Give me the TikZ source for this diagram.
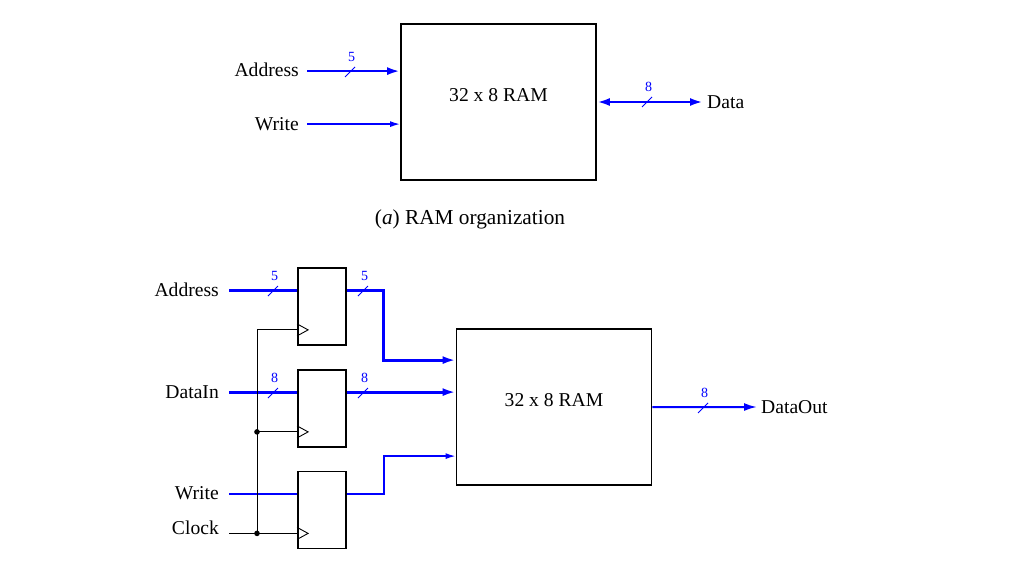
\documentclass[tikz,border=0pt]{standalone}
\usepackage{fontspec}
\setmainfont{Liberation Serif}
\usetikzlibrary{arrows.meta,calc}
\tikzset{
  lbl/.style={font=\fontsize{19.6}{22}\selectfont, inner sep=4pt},
  caplbl/.style={font=\fontsize{21.3}{24}\selectfont, inner sep=4pt},
  blabel/.style={font=\fontsize{14}{15}\selectfont, text=blue, inner sep=0pt},
  bus/.style={draw=blue, line width=3pt},
  sig/.style={draw=blue, line width=1.5pt},
  clk/.style={draw=black, line width=0.9pt},
  slash/.style={draw=blue, line width=0.9pt},
  tip/.style={-{Latex[length=13pt,width=8pt]}},
  thintip/.style={-{Latex[length=10pt,width=6pt]}},
  regbox/.style={draw, line width=1.8pt, minimum width=48pt, minimum height=77pt, inner sep=0pt},
  rambox/.style={draw, line width=1.8pt, minimum width=195pt, minimum height=156pt},
}
\newcommand{\bmark}[4]{%
  \draw[slash] (#2-5,#3+5) -- (#2+5,#3-5);
  \node[blabel] (#1) at (#2+1.5,#3-15.5) {#4};}
\newcommand{\clocktri}[1]{%
  \draw[clk] ($(#1)+(0,-6)$) -- ($(#1)+(11,0)$) -- ($(#1)+(0,6)$);}
\begin{document}
\begin{tikzpicture}[x=1pt,y=-1pt]
\useasboundingbox (0,0) rectangle (1018,573);

% ---------- (a) RAM organization ----------
\node[rambox] (ram1) at (498.5,102) {};
\node[lbl] (ram1t) at ($(ram1.center)+(0,-7)$) {32 x 8 RAM};
\node[lbl, anchor=east, inner xsep=8pt] (addrA) at (307,70) {Address};
\node[lbl, anchor=east, inner xsep=8pt] (writeA) at (307,124) {Write};
\node[lbl, anchor=west, inner xsep=4pt] (dataA) at (703,102) {Data};
\coordinate (ramAaddr) at ($(ram1.north west)+(0,48)$);
\coordinate (ramAwrite) at ($(ram1.north west)+(0,101)$);
\draw[bus, line width=2.6pt, tip] (addrA.east |- ramAaddr) -- (ramAaddr);
\draw[sig, thintip] (writeA.east |- ramAwrite) -- (ramAwrite);
\draw[bus, line width=2.6pt, {Latex[length=13pt,width=8pt]}-{Latex[length=13pt,width=8pt]}]
  (ram1.east) -- (dataA.west);
\bmark{n5a}{350}{72}{5}
\bmark{n8a}{647}{102}{8}
\node[caplbl] (capA) at (470,219) {(\textit{a}) RAM organization};

% ---------- (b) ----------
\node[regbox] (r1) at (322,306.5) {};
\node[regbox] (r2) at (322,408.5) {};
\node[regbox] (r3) at (322,510) {};
\node[rambox] (ram2) at (554,407) {};
\node[lbl] (ram2t) at ($(ram2.center)+(0,-7)$) {32 x 8 RAM};

\node[lbl, anchor=east, inner xsep=10pt] (addrB) at (229,290) {Address};
\node[lbl, anchor=east, inner xsep=10pt] (dinB) at (229,392) {DataIn};
\node[lbl, anchor=east, inner xsep=10pt] (writeB) at (229,493) {Write};
\node[lbl, anchor=east, inner xsep=10pt] (clockB) at (229,528) {Clock};
\node[lbl, anchor=west, inner xsep=4pt] (doutB) at (757,407) {DataOut};

\coordinate (r1in) at ($(r1.north west)+(0,23)$);
\coordinate (r1out) at ($(r1.north east)+(0,23)$);
\coordinate (r1clk) at ($(r1.south west)+(0,-16)$);
\coordinate (r2in) at ($(r2.north west)+(0,23)$);
\coordinate (r2out) at ($(r2.north east)+(0,23)$);
\coordinate (r2clk) at ($(r2.south west)+(0,-16)$);
\coordinate (r3in) at ($(r3.north west)+(0,23.5)$);
\coordinate (r3out) at ($(r3.north east)+(0,23.5)$);
\coordinate (r3clk) at ($(r3.south west)+(0,-16)$);
\coordinate (ramBaddr) at ($(ram2.north west)+(0,32)$);
\coordinate (ramBdata) at ($(ram2.north west)+(0,64)$);
\coordinate (ramBwrite) at ($(ram2.north west)+(0,128)$);
\coordinate (ramBout) at ($(ram2.north east)+(0,79)$);
\coordinate (clkbus) at (257,0);

% inputs
\draw[bus] (addrB.east |- r1in) -- (r1in);
\draw[bus] (dinB.east |- r2in) -- (r2in);
\draw[sig] (writeB.east |- r3in) -- (r3in);
% outputs
\draw[bus, tip] (r1out) -- ++(37,0) |- (ramBaddr);
\draw[bus, tip] (r2out) -- (ramBdata);
\draw[sig, thintip] (r3out) -- ++(37,0) |- (ramBwrite);
\draw[bus, line width=2pt, tip] (ramBout) -- (doutB.west);

% clock
\draw[clk] (clockB.east |- r3clk) -- (r3clk);
\draw[clk] (clkbus |- r3clk) -- (clkbus |- r1clk) -- (r1clk);
\draw[clk] (clkbus |- r2clk) -- (r2clk);
\fill (clkbus |- r2clk) circle (2.8);
\fill (clkbus |- r3clk) circle (2.8);
\clocktri{r1clk}
\clocktri{r2clk}
\clocktri{r3clk}

% bus widths
\bmark{n5b}{273}{291}{5}
\bmark{n5c}{363}{291}{5}
\bmark{n8b}{273}{393}{8}
\bmark{n8c}{363}{393}{8}
\bmark{n8d}{703}{408}{8}
\end{tikzpicture}
\end{document}
